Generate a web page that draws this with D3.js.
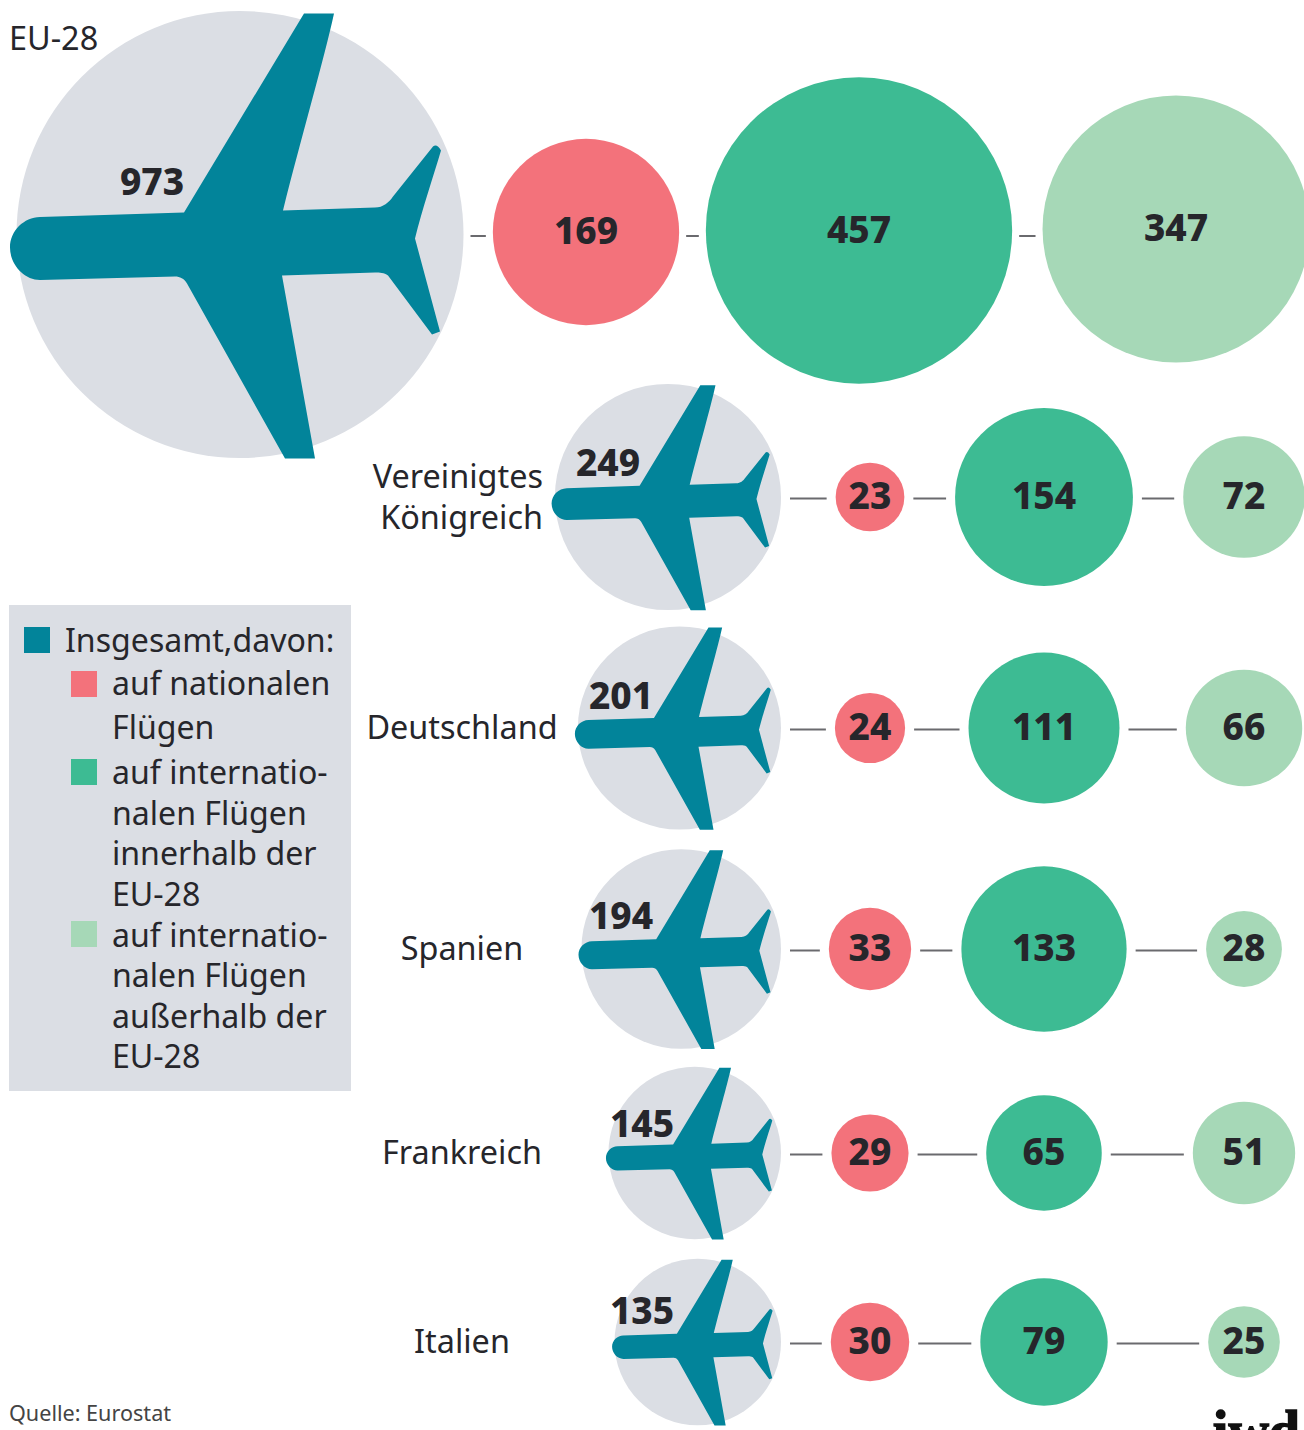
<!DOCTYPE html>
<html>
<head>
<meta charset="utf-8">
<title>Flugpassagiere EU-28</title>
<script src="https://cdn.jsdelivr.net/npm/d3@7"></script>
<style>
  body { margin: 0; background: #fff; }
  text { font-family: "Noto Sans", sans-serif; fill: #26262b; }
  .num { font-weight: 800; font-size: 37px; text-anchor: middle; }
  .label { font-size: 32.4px; }
  .legend { font-size: 32.1px; }
</style>
</head>
<body>
<svg id="chart" width="1304" height="1430"></svg>
<script>
/* DATA */
const regions = ["EU-28", "Vereinigtes Königreich", "Deutschland", "Spanien", "Frankreich", "Italien"];
const total = [973, 249, 201, 194, 145, 135];
const national = [169, 23, 24, 33, 29, 30];
const intraEU = [457, 154, 111, 133, 65, 79];
const extraEU = [347, 72, 66, 28, 51, 25];

const legendLabels = ["Insgesamt,davon:", "auf nationalen", "Flügen", "auf internatio-", "nalen Flügen",
  "innerhalb der", "EU-28", "auf internatio-", "nalen Flügen", "außerhalb der", "EU-28"];

/* LAYOUT AND COLOURS */
const colors = { total: "#02849a", national: "#f3727b", intraEU: "#3dbb93", extraEU: "#a6d8b7", disc: "#dbdee4", line: "#6a6a6e" };
const svg = d3.select("#chart");

// area of a circle stands for the value
const maxR = 223.5;
const radius = d3.scaleSqrt().domain([0, 973]).range([0, maxR]);

// rows and columns are not evenly spaced in the original, so ordinal scales
const rowY = d3.scaleOrdinal().domain(regions).range([232, 497, 728, 949, 1153, 1342]);
const colX = d3.scaleOrdinal().domain(["national", "intraEU", "extraEU"]).range([870, 1044, 1244]);
const euX = d3.scaleOrdinal().domain(["national", "intraEU", "extraEU"]).range([586, 859, 1176]);

const planeRight = 781; // small planes line up on their right edge
const labelX = [152, 608, 621, 621, 642, 642];
const labelY = [195, 476, 709, 929, 1137, 1324];

// plane outline, drawn for the big circle around 0,0
const plane = "M-230,13 C-230,-4 -216,-17 -200,-17.5 L-56,-22 L64,-221 L94,-221 C84,-175 62,-100 43,-24 " +
  "L135,-27 C143,-27 149,-32 153,-38 L193,-88 Q197,-91 201,-84 C194,-60 182,-25 175,4 L200,97 L192,100 " +
  "L148,41 C144,38 140,38 135,38 L42,41 L75,224 L45,224 L-53,49 C-56,44 -60,42 -65,42 " +
  "L-200,45.5 C-216,45.5 -230,30 -230,13 Z";

const rows = regions.map((name, i) => {
  const r = radius(total[i]);
  const eu = i === 0;
  const x = eu ? 240 : planeRight - r;
  const y = eu ? 234.5 : rowY(name);
  const parts = [
    { key: "national", value: national[i] },
    { key: "intraEU", value: intraEU[i] },
    { key: "extraEU", value: extraEU[i] }
  ].map((p, j) => ({
    ...p,
    x: eu ? euX(p.key) : colX(p.key),
    y: eu ? [232, 230.5, 229][j] : rowY(name),
    r: radius(p.value)
  }));
  return { name, i, x, y, r, parts };
});

/* CONNECTORS */
const gap = d3.scaleOrdinal().domain(regions).range([7, 9, 9, 9, 9, 9]);
rows.forEach(row => {
  const stops = [{ x: row.x, r: row.r }, ...row.parts];
  d3.pairs(stops).forEach(([a, b]) => {
    svg.append("line")
      .attr("x1", a.x + a.r + gap(row.name))
      .attr("x2", b.x - b.r - gap(row.name))
      .attr("y1", row.y + 1.5).attr("y2", row.y + 1.5)
      .attr("stroke", colors.line).attr("stroke-width", 2);
  });
});

/* CIRCLES AND PLANES */
const row = svg.selectAll("g.row").data(rows).join("g").attr("class", "row");

row.append("circle")
  .attr("cx", d => d.x).attr("cy", d => d.y).attr("r", d => d.r)
  .attr("fill", colors.disc);

row.append("path")
  .attr("d", plane)
  .attr("transform", d => `translate(${d.x},${d.y}) scale(${d.r / maxR})`)
  .attr("fill", colors.total);

row.append("text")
  .attr("class", "num")
  .attr("x", d => labelX[d.i]).attr("y", d => labelY[d.i])
  .text(d => total[d.i]);

row.selectAll("circle.part").data(d => d.parts).join("circle")
  .attr("class", "part")
  .attr("cx", d => d.x).attr("cy", d => d.y).attr("r", d => d.r)
  .attr("fill", d => colors[d.key]);

row.selectAll("text.part").data(d => d.parts).join("text")
  .attr("class", "num part")
  .attr("x", d => d.x).attr("y", d => d.y + 12)
  .text(d => d.value);

/* REGION LABELS */
svg.append("text").attr("class", "label").attr("x", 9).attr("y", 50).text(regions[0]);

const uk = svg.append("text").attr("class", "label").attr("text-anchor", "end");
regions[1].split(" ").forEach((w, i) => {
  uk.append("tspan").attr("x", 543).attr("y", 488 + i * 41).text(w);
});

regions.slice(2).forEach(name => {
  svg.append("text").attr("class", "label")
    .attr("x", 462).attr("y", rowY(name) + 11)
    .attr("text-anchor", "middle")
    .text(name);
});

/* LEGEND */
svg.append("rect").attr("x", 9).attr("y", 605).attr("width", 342).attr("height", 486).attr("fill", colors.disc);

const swatches = [
  { key: "total", x: 24, y: 627 },
  { key: "national", x: 71, y: 671 },
  { key: "intraEU", x: 71, y: 759 },
  { key: "extraEU", x: 71, y: 921 }
];
svg.selectAll("rect.swatch").data(swatches).join("rect")
  .attr("class", "swatch")
  .attr("x", d => d.x).attr("y", d => d.y).attr("width", 26).attr("height", 26)
  .attr("fill", d => colors[d.key]);

const legendY = [652, 695, 739, 784, 825, 865, 906, 947, 987, 1028, 1068];
svg.selectAll("text.legend").data(legendLabels).join("text")
  .attr("class", "legend")
  .attr("x", (d, i) => i === 0 ? 65 : 112)
  .attr("y", (d, i) => legendY[i])
  .text(d => d);

/* FOOTER */
svg.append("text").attr("x", 9).attr("y", 1421).attr("font-size", 21.6).style("fill", "#444").text("Quelle: Eurostat");
// the logo runs off the bottom edge in the original too
svg.append("text").attr("x", 1300).attr("y", 1450).attr("text-anchor", "end")
  .attr("font-size", 56).attr("font-weight", 700)
  .style("font-family", "'Liberation Serif', serif").style("fill", "#111")
  .style("stroke", "#111").style("stroke-width", 1.5)
  .text("iwd");
</script>
</body>
</html>
